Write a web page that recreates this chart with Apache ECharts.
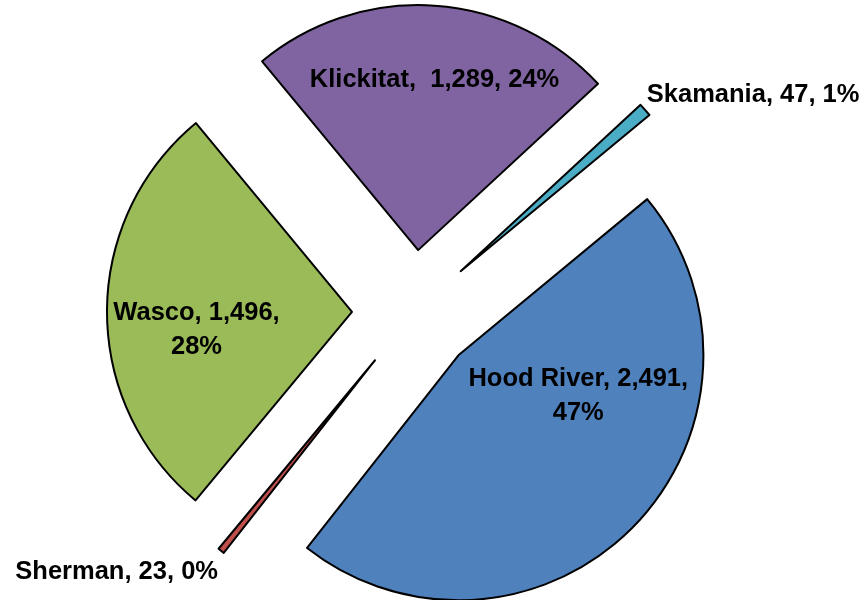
<!DOCTYPE html>
<html>
<head>
<meta charset="utf-8">
<script src="https://cdn.jsdelivr.net/npm/echarts@6/dist/echarts.min.js"></script>
<style>html,body{margin:0;padding:0;background:#fff}#c{width:866px;height:600px}</style>
</head>
<body>
<div id="c"></div>
<script>
const categories = ["Hood River", "Sherman", "Wasco", "Klickitat", "Skamania"];
const values = [2491, 23, 1496, 1289, 47];
const colors = ["#4F81BD", "#C0504D", "#9BBB59", "#8064A2", "#4BACC6"];
const nameSep = [", ", ", ", ", ", ",  ", ", "];
const valueSep = [",\n", ", ", ",\n", ", ", ", "];
const labelPos = ["inside", "outside", "inside", "inside", "outside"];
const labelShift = [[30, -47], [5, 17], [-30, 18], [8, -45], [-7, -12]];

const chart = echarts.init(document.getElementById('c'), null, {renderer: 'canvas'});
chart.setOption({
  animation: false,
  series: [{
    type: 'pie',
    center: [414, 312],
    radius: 245,
    startAngle: 39.6,
    clockwise: true,
    selectedMode: 'multiple',
    selectedOffset: 62,
    avoidLabelOverlap: false,
    emphasis: {disabled: true},
    itemStyle: {borderColor: '#000', borderWidth: 2},
    label: {
      fontFamily: 'Liberation Sans, Arial, sans-serif',
      fontWeight: 'bold',
      fontSize: 25.5,
      lineHeight: 34,
      color: '#000',
      align: 'center',
      formatter: p => p.name + nameSep[p.dataIndex] + p.value.toLocaleString('en-US') +
        valueSep[p.dataIndex] + Math.round(p.percent) + '%'
    },
    labelLine: {show: false, length: 5, length2: 0},
    labelLayout: p => ({dx: labelShift[p.dataIndex][0], dy: labelShift[p.dataIndex][1]}),
    data: categories.map((n, i) => ({
      name: n, value: values[i], selected: true,
      itemStyle: {color: colors[i]},
      label: {position: labelPos[i]}
    }))
  }]
});
</script>
</body>
</html>
